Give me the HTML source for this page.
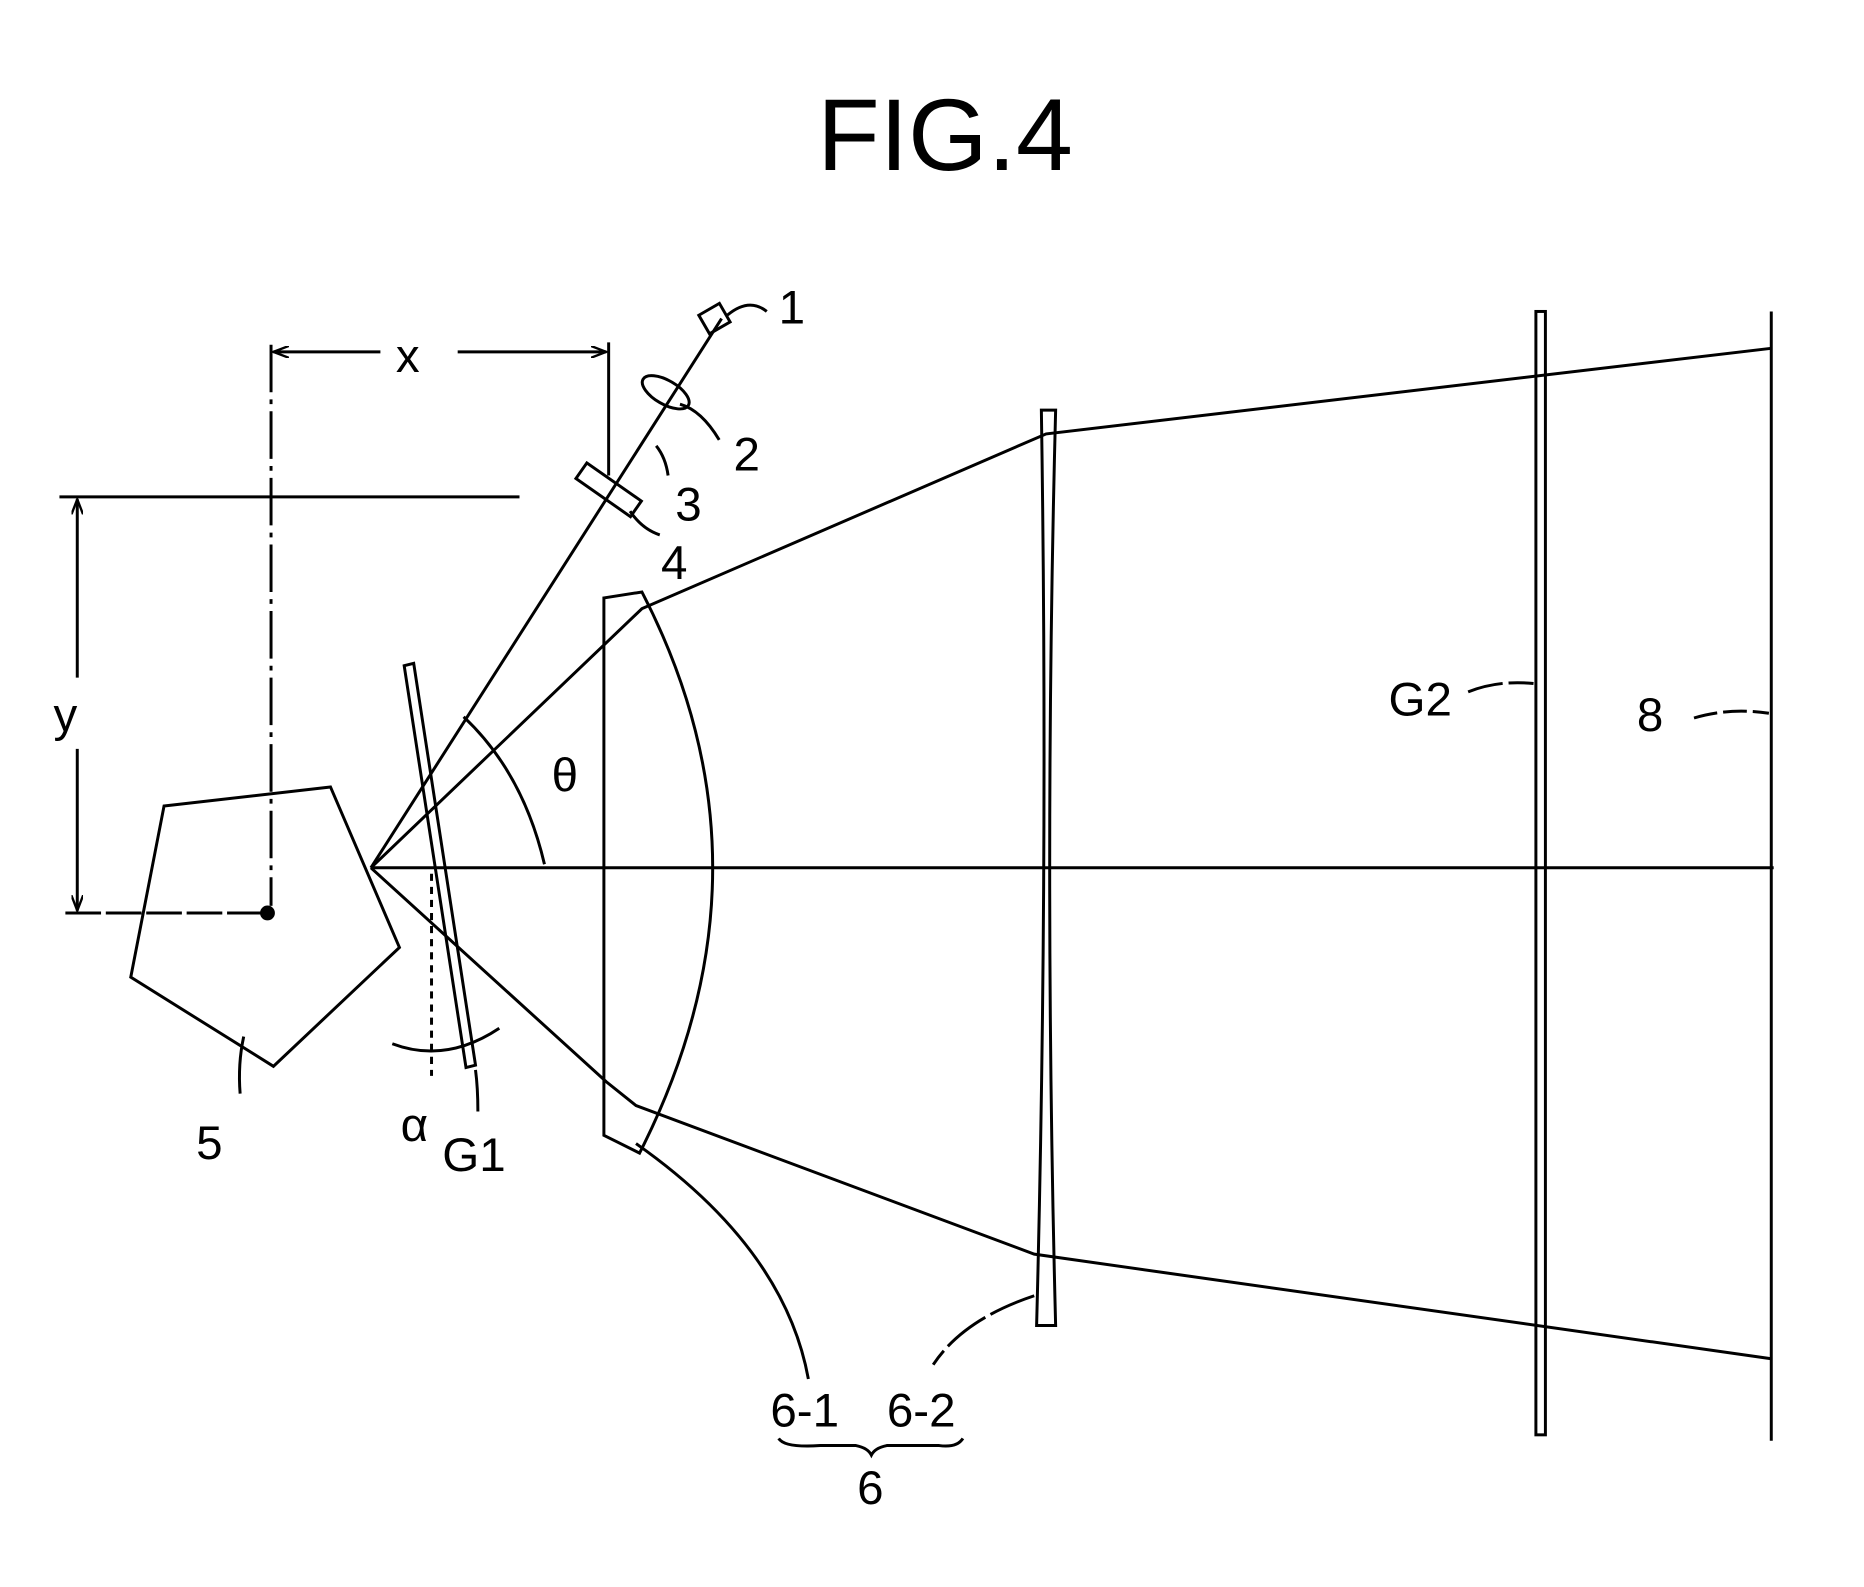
<!DOCTYPE html>
<html><head><meta charset="utf-8"><style>
html,body{margin:0;padding:0;background:#fff;}
svg{display:block;}
text{font-family:"Liberation Sans",sans-serif;fill:#000;}
</style></head><body>
<svg width="1864" height="1587" viewBox="0 0 1568 1335" preserveAspectRatio="none" xmlns="http://www.w3.org/2000/svg">
<defs>
<marker id="ar" markerWidth="14" markerHeight="10" refX="13" refY="5" orient="auto" markerUnits="userSpaceOnUse">
<path d="M0,0 L13,5 L0,10" fill="none" stroke="#000" stroke-width="2"/></marker>
</defs>
<g fill="none" stroke="#000" stroke-width="2.5">
<text x="795" y="143" font-size="86" text-anchor="middle" stroke="none">FIG.4</text>
<!-- pentagon -->
<polygon points="138,678 278,662 336,797 230,897 110,822"/>
<circle cx="225" cy="768" r="5" fill="#000"/>
<!-- x dimension -->
<line x1="228" y1="290" x2="228" y2="762" stroke-dasharray="40,6,4,6"/>
<line x1="512" y1="288" x2="512" y2="400"/>
<line x1="320" y1="296" x2="230" y2="296" marker-end="url(#ar)"/>
<line x1="385" y1="296" x2="510" y2="296" marker-end="url(#ar)"/>
<!-- y dimension -->
<line x1="50" y1="418" x2="437" y2="418"/>
<line x1="55" y1="768" x2="220" y2="768" stroke-dasharray="30,4"/>
<line x1="65" y1="570" x2="65" y2="420" marker-end="url(#ar)"/>
<line x1="65" y1="630" x2="65" y2="766" marker-end="url(#ar)"/>
<!-- axis -->
<line x1="312" y1="730" x2="1492" y2="730"/>
<!-- source line -->
<line x1="312" y1="730" x2="607" y2="268"/>
<rect x="591" y="259" width="20" height="18" transform="rotate(-30 601 268)"/>
<ellipse cx="560" cy="330" rx="22" ry="10" transform="rotate(30 560 330)"/>
<rect x="484" y="404" width="56" height="16" transform="rotate(35 512 412)"/>
<!-- rays -->
<polyline points="312,730 540,512 880,365 1490,293"/>
<polyline points="312,730 510,910 535,930 870,1055 1490,1143"/>
<!-- G1 -->
<polygon points="340,560 348,558 400,896 392,898"/>
<line x1="363" y1="735" x2="363" y2="905" stroke-dasharray="6,5"/>
<path d="M330,878 Q375,895 420,865"/>
<!-- lens 6-1 -->
<path d="M508,503 L540,498 Q660,730 538,970 L508,955 Z"/>
<!-- lens 6-2 -->
<path d="M876,345 L888,345 Q878,730 888,1115 L872,1115 Q882,730 876,345 Z"/>
<!-- G2 -->
<rect x="1292" y="262" width="8" height="945"/>
<!-- screen 8 -->
<line x1="1490" y1="262" x2="1490" y2="1212"/>
<!-- leaders -->
<path d="M612,265 Q630,250 645,262"/>
<path d="M572,340 Q590,345 605,370"/>
<path d="M552,375 Q560,385 562,400"/>
<path d="M530,430 Q540,445 555,450"/>
<path d="M205,872 Q200,895 202,920"/>
<path d="M400,900 Q402,915 402,935"/>
<path d="M535,962 Q660,1050 680,1160"/>
<path d="M870,1090 Q810,1110 785,1148" stroke-dasharray="40,5"/>
<path d="M1235,582 Q1260,572 1290,575" stroke-dasharray="30,5"/>
<path d="M1425,604 Q1455,595 1488,600" stroke-dasharray="20,5"/>
<path d="M390,603 Q440,650 458,727"/>
<path d="M655,1210 Q660,1218 690,1216 L720,1216 Q730,1218 733,1224 Q736,1218 746,1216 L790,1216 Q805,1218 810,1210"/>
</g>
<g font-size="40">
<text x="655" y="272">1</text>
<text x="617" y="396">2</text>
<text x="568" y="438">3</text>
<text x="556" y="487">4</text>
<text x="333" y="313">x</text>
<text x="45" y="615">y</text>
<text x="464" y="666">θ</text>
<text x="165" y="975">5</text>
<text x="337" y="960">α</text>
<text x="372" y="985">G1</text>
<text x="1168" y="602">G2</text>
<text x="1377" y="615">8</text>
<text x="648" y="1200">6-1</text>
<text x="746" y="1200">6-2</text>
<text x="721" y="1265">6</text>
</g>
</svg>
</body></html>
